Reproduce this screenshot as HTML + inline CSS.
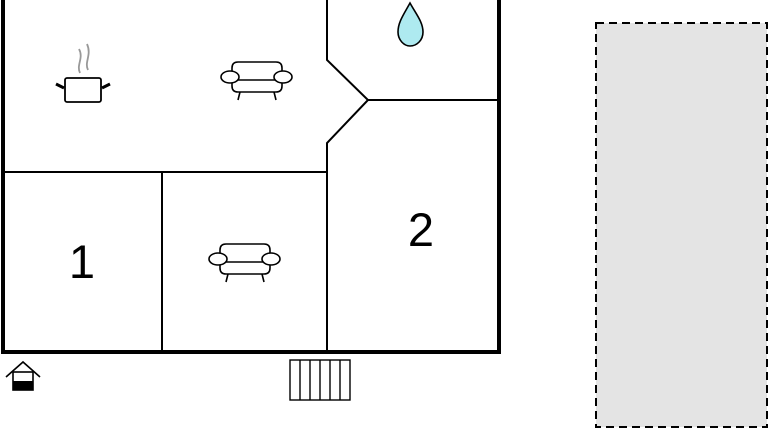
<!DOCTYPE html>
<html><head><style>body{margin:0;background:#fff}svg{display:block}</style></head><body>
<svg width="768" height="432" viewBox="0 0 768 432" xmlns="http://www.w3.org/2000/svg">
<rect x="596" y="23" width="171" height="404" fill="#e4e4e4" stroke="#000" stroke-width="2" stroke-dasharray="8,5"/>
<g fill="none" stroke="#000">
<path d="M3,0 V352 H499 V0" stroke-width="4"/>
<path d="M3,172 H327 M162,172 V352 M327,0 V60 L368,100 L327,143 V352 M368,100 H499" stroke-width="2"/>
</g>
<g fill="none" stroke="#000" stroke-width="1.8">
<rect x="65" y="78" width="36" height="24" rx="2"/>
<path d="M56,84 L64,88 M102,88 L110,84" stroke-width="3"/>
<path d="M80,73 C76,65 84,58 79,49 M88,70 C84,62 92,55 87,44" stroke="#999"/>
</g>
<g id="sofa" fill="#fff" stroke="#000" stroke-width="1.6">
<path d="M232,80 V68 Q232,62 238,62 H276 Q282,62 282,68 V80"/>
<path d="M232,80 V86 Q232,92 238,92 H276 Q282,92 282,86 V80 Z"/>
<ellipse cx="230" cy="77" rx="9" ry="6"/><ellipse cx="283" cy="77" rx="9" ry="6"/>
<path d="M240,92 L238,100 M274,92 L276,100"/>
</g>
<use href="#sofa" transform="translate(-12,182)"/>
<path d="M410,3 C404,14 398,22 398,32 C398,40 404,46 410,46 C417,46 423,40 423,32 C423,22 416,14 410,3 Z" fill="#aeeaf0" stroke="#000" stroke-width="1.6"/>
<text x="82" y="278" font-family="Liberation Sans, sans-serif" font-size="47" text-anchor="middle">1</text>
<text x="421" y="246" font-family="Liberation Sans, sans-serif" font-size="47" text-anchor="middle">2</text>
<g stroke="#000" fill="none" stroke-width="1.6">
<path d="M6,377 L23,362 L40,377"/>
<rect x="13" y="372" width="20" height="18"/>
</g>
<rect x="13" y="381" width="20" height="9" fill="#000"/>
<g stroke="#000" fill="none" stroke-width="1.4">
<rect x="290" y="360" width="60" height="40"/>
<path d="M300,360 V400 M310,360 V400 M320,360 V400 M330,360 V400 M340,360 V400"/>
</g>
</svg>
</body></html>
